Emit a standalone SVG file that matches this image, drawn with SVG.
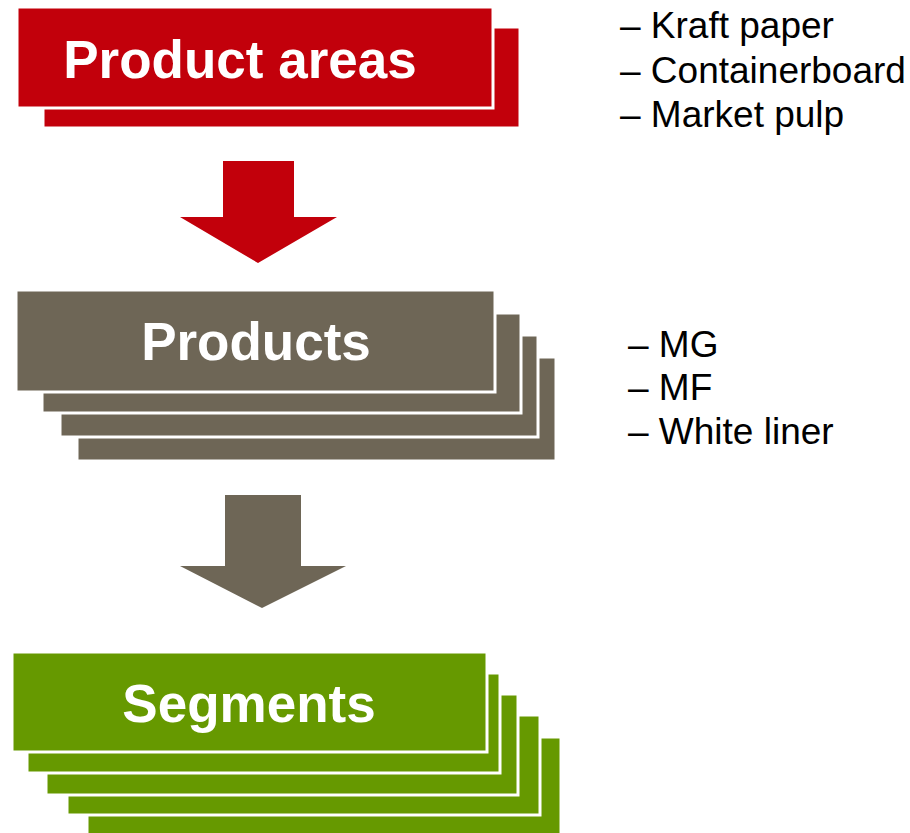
<svg xmlns="http://www.w3.org/2000/svg" width="910" height="833" viewBox="0 0 910 833">
<style>
.red{fill:#C2000B;stroke:#fff;stroke-width:3}
.gray{fill:#6E6656;stroke:#fff;stroke-width:3}
.green{fill:#669900;stroke:#fff;stroke-width:3}
.title{font-family:"Liberation Sans",Arial,sans-serif;font-weight:bold;font-size:53px;fill:#fff;text-anchor:middle}
.item{font-family:"Liberation Sans",Arial,sans-serif;font-size:37px;fill:#000}
</style>
<rect width="910" height="833" fill="#fff"/>
<g id="product-areas">
<rect class="red" x="43" y="27" width="477" height="101"/>
<rect class="red" x="17" y="7" width="476" height="101"/>
<text class="title" x="240" y="78">Product areas</text>
</g>
<g id="products">
<rect class="gray" x="77" y="357" width="479" height="104"/>
<rect class="gray" x="60" y="335" width="478" height="102"/>
<rect class="gray" x="42" y="313" width="479" height="100"/>
<rect class="gray" x="16" y="290" width="479" height="102"/>
<text class="title" x="256" y="360">Products</text>
</g>
<g id="segments">
<rect class="green" x="87" y="737" width="474" height="100"/>
<rect class="green" x="67" y="715" width="473" height="100"/>
<rect class="green" x="46" y="694" width="472" height="101"/>
<rect class="green" x="27" y="673" width="473" height="100"/>
<rect class="green" x="12" y="652" width="475" height="100"/>
<text class="title" x="249" y="722">Segments</text>
</g>
<g id="product-areas-list">
<text class="item" x="620" y="38">– Kraft paper</text>
<text class="item" x="620" y="83">– Containerboard</text>
<text class="item" x="620" y="127">– Market pulp</text>
</g>
<g id="products-list">
<text class="item" x="628" y="357">– MG</text>
<text class="item" x="628" y="400">– MF</text>
<text class="item" x="628" y="444">– White liner</text>
</g>
<g id="connectors">
<polygon fill="#C2000B" points="223,161 294,161 294,217 337,217 258,263 180,217 223,217"/>
<polygon fill="#6E6656" points="225,495 301,495 301,566 346,566 262,608 180,566 225,566"/>
</g>
</svg>
